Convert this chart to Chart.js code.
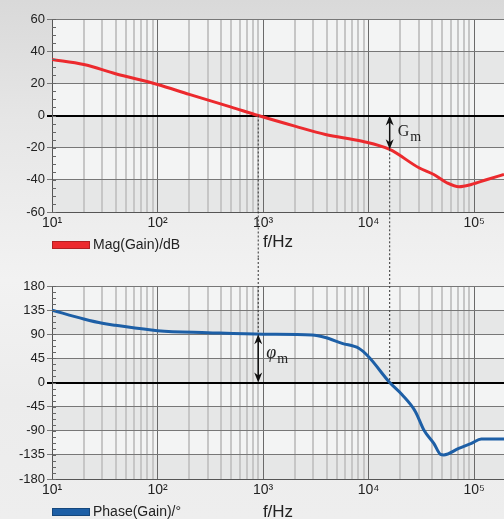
<!DOCTYPE html>
<html lang="en">
<head>
<meta charset="UTF-8">
<title>Bode Plot</title>
<script src="https://cdn.jsdelivr.net/npm/chart.js"></script>
<style>
html, body { margin: 0; padding: 0; width: 504px; height: 519px; overflow: hidden; }
body {
    position: relative;
    background: linear-gradient(180deg, #d9d9d9 0px, #e6e6e6 120px, #efefef 240px, #f2f2f2 280px, #ececec 400px, #eeeeee 519px);
    font-family: 'Liberation Sans', Arial, sans-serif;
}
.box { position: absolute; left: 0; width: 504px; }
#magBox { top: 0; height: 258px; }
#phaseBox { top: 258px; height: 270px; }
</style>
</head>
<body>
<div class="box" id="magBox"><canvas id="magChart" width="504" height="258"></canvas></div>
<div class="box" id="phaseBox"><canvas id="phaseChart" width="504" height="270"></canvas></div>

<script>
// magnitude curve
const magFreq = [10, 20, 40, 100, 200, 500, 900, 2000, 3900, 8700, 15850, 30000, 41500, 55000, 72000, 94000, 133000, 192000];
const magDb   = [34.8, 31.7, 26, 19.3, 13.1, 5.2, 0, -6.6, -11.8, -16, -21.1, -32.5, -36.7, -41.8, -44.3, -42.9, -39.8, -36.7];

// phase curve
const phaseFreq = [10, 20, 30, 40, 100, 300, 1000, 2910, 3900, 5610, 8070, 10000, 15850, 20800, 27800, 33400, 41500, 48000, 51600, 71600, 94400, 117000, 192000];
const phaseDeg  = [135, 118.5, 110.4, 106.7, 96.7, 93, 90, 88.6, 84, 73, 63.8, 48, 0, -23, -54.4, -88.6, -113.5, -134, -135, -122.8, -113.5, -105.5, -105.5];

// axes
const freqMin = 10, freqMax = 192000;
const magTicks = [60, 40, 20, 0, -20, -40, -60];
const phaseTicks = [180, 135, 90, 45, 0, -45, -90, -135, -180];
const magMinorStep = 5, phaseMinorStep = 11.25;

// margins
const crossFreq = 900;          // 0 dB crossing
const phaseCrossFreq = 15850;   // 0 deg crossing
const gainAtPhaseCross = -21;
const phaseAtCross = 90;

const supDigits = ['\u2070', '\u00b9', '\u00b2', '\u00b3', '\u2074', '\u2075', '\u2076'];
function isDecade(v) {
    const l = Math.log10(v);
    return Math.abs(l - Math.round(l)) < 1e-9;
}
const gridFreqs = [];
for (let e = 1; e <= 5; e++) {
    for (let m = 1; m <= 9; m++) gridFreqs.push(m * Math.pow(10, e));
}

function dotted(c, x, y1, y2) {
    c.save();
    c.strokeStyle = '#333';
    c.lineWidth = 1;
    c.setLineDash([2, 2]);
    c.beginPath();
    c.moveTo(x, y1);
    c.lineTo(x, y2);
    c.stroke();
    c.restore();
}

function doubleArrow(c, x, y1, y2) {
    const h = 8, w = 4;
    c.save();
    c.strokeStyle = '#111';
    c.fillStyle = '#111';
    c.lineWidth = 1.5;
    c.beginPath();
    c.moveTo(x, y1 + 3);
    c.lineTo(x, y2 - 3);
    c.stroke();
    c.beginPath();
    c.moveTo(x, y1); c.lineTo(x - w, y1 + h + 2); c.lineTo(x, y1 + h - 1); c.lineTo(x + w, y1 + h + 2); c.closePath();
    c.fill();
    c.beginPath();
    c.moveTo(x, y2); c.lineTo(x - w, y2 - h - 2); c.lineTo(x, y2 - h + 1); c.lineTo(x + w, y2 - h - 2); c.closePath();
    c.fill();
    c.restore();
}

function subLabel(c, main, sub, x, base, mainFont) {
    c.save();
    c.fillStyle = '#222';
    c.textAlign = 'left';
    c.textBaseline = 'alphabetic';
    c.font = mainFont;
    c.fillText(main, x, base);
    const w = c.measureText(main).width;
    c.font = '14px "Liberation Serif", serif';
    c.fillText(sub, x + w + 1, base + 5);
    c.restore();
}

// alternating bands + minor y ticks + legend
function decorPlugin(minorStep, legendText, legendColor) {
    return {
        id: 'decor',
        beforeDraw(chart) {
            const c = chart.ctx, a = chart.chartArea, y = chart.scales.y;
            const vals = y.ticks.map(t => t.value).sort((p, q) => q - p);
            c.save();
            for (let i = 0; i < vals.length - 1; i++) {
                const top = y.getPixelForValue(vals[i]);
                const bot = y.getPixelForValue(vals[i + 1]);
                c.fillStyle = i % 2 === 0 ? '#f3f4f4' : '#e6e7e7';
                c.fillRect(a.left, top, a.right - a.left, bot - top);
            }
            c.restore();
        },
        afterDraw(chart) {
            const c = chart.ctx, a = chart.chartArea, y = chart.scales.y;
            c.save();
            c.strokeStyle = '#666';
            c.lineWidth = 1;
            for (let v = y.min; v <= y.max; v += minorStep) {
                const p = Math.round(y.getPixelForValue(v)) + 0.5;
                c.beginPath();
                c.moveTo(a.left, p);
                c.lineTo(a.left + 4, p);
                c.stroke();
            }
            const ry = a.bottom + 29;
            c.fillStyle = legendColor;
            c.fillRect(52, ry, 38, 8);
            c.strokeStyle = 'rgba(0,0,0,0.25)';
            c.strokeRect(52.5, ry + 0.5, 37, 7);
            c.fillStyle = '#222';
            c.font = '14px "Liberation Sans", Arial, sans-serif';
            c.textBaseline = 'middle';
            c.fillText(legendText, 93, ry + 4.5);
            c.restore();
        }
    };
}

const magMarks = {
    id: 'magMarks',
    afterDatasetsDraw(chart) {
        const c = chart.ctx, x = chart.scales.x, y = chart.scales.y;
        const xc = x.getPixelForValue(crossFreq);
        const xg = x.getPixelForValue(phaseCrossFreq);
        const y0 = y.getPixelForValue(0);
        const yg = y.getPixelForValue(gainAtPhaseCross);
        dotted(c, xc, y0, chart.height);
        dotted(c, xg, yg, chart.height);
        doubleArrow(c, xg, y0, yg);
        subLabel(c, 'G', 'm', xg + 8, (y0 + yg) / 2 + 4, '16px "Liberation Serif", serif');
    }
};

const phaseMarks = {
    id: 'phaseMarks',
    afterDatasetsDraw(chart) {
        const c = chart.ctx, x = chart.scales.x, y = chart.scales.y;
        const xc = x.getPixelForValue(crossFreq);
        const xg = x.getPixelForValue(phaseCrossFreq);
        const y0 = y.getPixelForValue(0);
        const yp = y.getPixelForValue(phaseAtCross);
        dotted(c, xc, 0, yp);
        dotted(c, xg, 0, y0);
        doubleArrow(c, xc, yp, y0);
        subLabel(c, '\u03c6', 'm', xc + 8, (yp + y0) / 2, 'italic 18px "Liberation Serif", serif');
    }
};

function xScale(bottomHeight) {
    return {
        type: 'logarithmic',
        min: freqMin,
        max: freqMax,
        afterBuildTicks(scale) {
            scale.ticks = gridFreqs.filter(v => v >= freqMin && v <= freqMax).map(v => ({ value: v }));
        },
        afterFit(scale) { scale.height = bottomHeight; },
        grid: {
            drawTicks: false,
            color: ctx => (ctx.tick && isDecade(ctx.tick.value)) ? '#6a6a6a' : '#c6c6c6',
            lineWidth: ctx => (ctx.tick && isDecade(ctx.tick.value)) ? 1 : 2
        },
        border: { color: '#555' },
        ticks: {
            autoSkip: false,
            maxRotation: 0,
            padding: 3,
            color: '#222',
            font: { family: 'Liberation Sans', size: 14 },
            callback: v => isDecade(v) ? '10' + supDigits[Math.round(Math.log10(v))] : ''
        },
        title: {
            display: true,
            text: 'f/Hz',
            color: '#222',
            font: { family: 'Liberation Sans', size: 17 },
            padding: { top: 0, bottom: 5 }
        }
    };
}

function yScale(ticks) {
    return {
        min: ticks[ticks.length - 1],
        max: ticks[0],
        afterBuildTicks(scale) { scale.ticks = ticks.map(v => ({ value: v })); },
        afterFit(scale) { scale.width = 52; },
        grid: {
            tickLength: 5,
            color: ctx => (ctx.tick && ctx.tick.value === 0) ? '#000' : '#777',
            lineWidth: ctx => (ctx.tick && ctx.tick.value === 0) ? 2 : 1
        },
        border: { color: '#555' },
        ticks: {
            padding: 2,
            color: '#222',
            font: { family: 'Liberation Sans', size: 13 }
        }
    };
}

function lineOptions(ticks, bottomHeight, padTop) {
    return {
        responsive: false,
        animation: false,
        layout: { padding: { top: padTop, right: 0, bottom: 0, left: 0 } },
        plugins: { legend: { display: false }, tooltip: { enabled: false } },
        elements: { point: { radius: 0 } },
        scales: { x: xScale(bottomHeight), y: yScale(ticks) }
    };
}

new Chart(document.getElementById('magChart').getContext('2d'), {
    type: 'line',
    data: {
        datasets: [{
            label: 'Mag(Gain)/dB',
            data: magFreq.map((f, i) => ({ x: f, y: magDb[i] })),
            borderColor: '#ec2a2e',
            borderWidth: 3,
            cubicInterpolationMode: 'monotone',
            fill: false
        }]
    },
    options: lineOptions(magTicks, 46, 19),
    plugins: [decorPlugin(magMinorStep, 'Mag(Gain)/dB', '#ec2a2e'), magMarks]
});

new Chart(document.getElementById('phaseChart').getContext('2d'), {
    type: 'line',
    data: {
        datasets: [{
            label: 'Phase(Gain)/\u00b0',
            data: phaseFreq.map((f, i) => ({ x: f, y: phaseDeg[i] })),
            borderColor: '#1d5fa6',
            borderWidth: 3,
            cubicInterpolationMode: 'monotone',
            fill: false
        }]
    },
    options: lineOptions(phaseTicks, 49, 28),
    plugins: [decorPlugin(phaseMinorStep, 'Phase(Gain)/\u00b0', '#1d5fa6'), phaseMarks]
});
</script>
</body>
</html>
